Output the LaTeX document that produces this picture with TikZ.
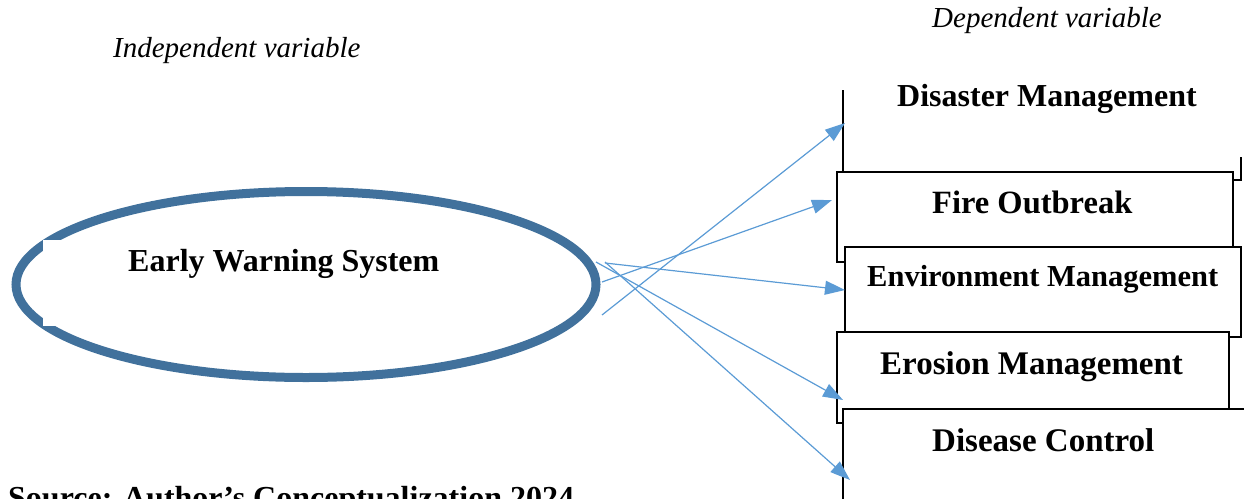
\documentclass[tikz,border=0pt]{standalone}
\usepackage{fontspec}
\setmainfont{Liberation Serif}
\usetikzlibrary{arrows.meta,shapes.geometric}
\definecolor{ellblue}{RGB}{65,113,156}
\definecolor{arrblue}{RGB}{91,155,213}
\begin{document}
\begin{tikzpicture}[x=1pt,y=-1pt,
  boxnode/.style={draw=black,line width=1.3pt,fill=white,inner sep=0pt,rectangle},
  lbl/.style={inner sep=0pt,anchor=base west,font=\bfseries\fontsize{32.5}{36}\selectfont},
  ital/.style={inner sep=0pt,anchor=base west,font=\itshape\fontsize{29}{32}\selectfont},
  arr/.style={draw=arrblue,line width=1.2pt,-{Triangle[length=20pt,width=14pt]}}]
\useasboundingbox (0,0) rectangle (1244,498);
% ellipse
\node[ellipse,draw=ellblue,line width=9pt,minimum width=580pt,minimum height=186pt,inner sep=0pt] (ews) at (306,284.5) {};
\fill[white] (43,240) rectangle (300,326);
% disaster box (open)
\coordinate (dA) at (843,90);
\coordinate (dB) at (843,180);
\coordinate (dC) at (1241,180);
\coordinate (dD) at (1241,157);
\draw[black,line width=1.3pt] (dA) -- (dB) -- (dC) -- (dD);
% boxes
\node[boxnode,minimum width=396pt,minimum height=90pt] (fire) at (1035,217) {};
\node[boxnode,minimum width=396pt,minimum height=90pt] (env) at (1043,292) {};
\node[boxnode,minimum width=392pt,minimum height=91pt] (ero) at (1033,377.5) {};
\node[boxnode,minimum width=407pt,minimum height=111pt] (dis) at (1046.5,464.5) {};
% texts
\node[ital] (indep) at (113,57) {Independent variable};
\node[ital] (dep) at (932,27) {Dependent variable};
\node[lbl,font=\bfseries\fontsize{32}{36}\selectfont] (ewst) at (128,271) {Early Warning System};
\node[lbl,font=\bfseries\fontsize{32}{36}\selectfont] (dmt) at (897,106) {Disaster Management};
\node[lbl] (fot) at (932,213) {Fire Outbreak};
\node[lbl,font=\bfseries\fontsize{30.5}{34}\selectfont] (emt) at (867,286) {Environment Management};
\node[lbl,font=\bfseries\fontsize{33}{36}\selectfont] (erm) at (880,374) {Erosion Management};
\node[lbl,font=\bfseries\fontsize{33}{36}\selectfont] (dct) at (932,451) {Disease Control};
\node[lbl,font=\bfseries\fontsize{32}{36}\selectfont] (src) at (8,508) {Source: Author’s Conceptualization 2024};
% arrows
\coordinate (s1) at (602,315);
\coordinate (s2) at (602,282);
\coordinate (s3) at (605,263);
\coordinate (s4) at (596,262);
\coordinate (s5) at (605,262);
\coordinate (e1) at (845,123);
\coordinate (e2) at (832,200);
\coordinate (e3) at (845,290);
\coordinate (e4) at (843,400);
\coordinate (e5) at (850,480);
\draw[arr] (s1) -- (e1);
\draw[arr] (s2) -- (e2);
\draw[arr] (s3) -- (e3);
\draw[arr] (s4) -- (e4);
\draw[arr] (s5) -- (e5);
\end{tikzpicture}
\end{document}
